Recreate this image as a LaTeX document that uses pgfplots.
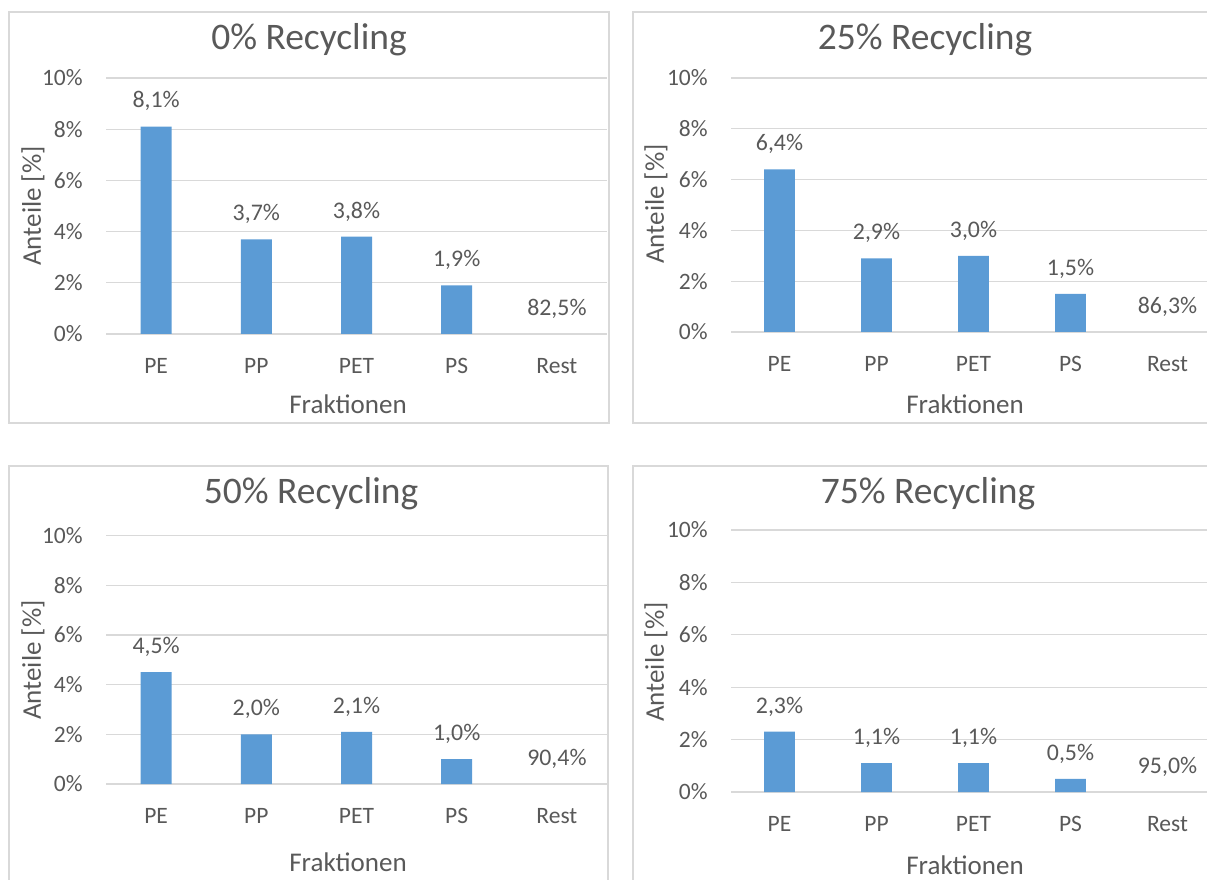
\documentclass[border=0pt]{standalone}
\usepackage{pgfplots}
\pgfplotsset{compat=1.18}
\usepackage{fontspec}
\setmainfont{Carlito}

\definecolor{barblue}{HTML}{5B9BD5}
\definecolor{txtgray}{HTML}{595959}
\definecolor{linegray}{HTML}{D9D9D9}

% pixel grid: 1 px = 0.6 pt, y measured from the top edge
\newcommand\PX[2]{({(#1)*0.6pt},{(879-(#2))*0.6pt})}

\pgfkeys{/pgf/number format/assume math mode=true}

\pgfplotsset{
  panel/.style={
    scale only axis,
    anchor=south west,
    ybar, bar width=#1,
    xmin=-0.5, xmax=4.5, ymin=0, ymax=10,
    xtick={0,...,4}, xticklabels={PE,PP,PET,PS,Rest},
    ytick={0,2,...,10},
    yticklabel={\pgfmathprintnumber[fixed,precision=0]{\tick}\%},
    ymajorgrids, grid style={linegray, line width=0.8pt},
    axis line style={draw=none},
    major tick length=0pt,
    tick label style={font=\fontsize{14.1}{17}\selectfont, text=txtgray},
    xticklabel style={anchor=base, inner sep=0pt, yshift=-23.6pt},
    yticklabel style={anchor=east, inner sep=0pt, xshift=-13.8pt},
    nodes near coords={\pgfmathprintnumber[fixed,fixed zerofill,precision=1,use comma]{\pgfplotspointmeta}\%},
    every node near coord/.append style={anchor=base, inner sep=0pt, yshift=11.2pt,
      font=\fontsize{14.3}{17}\selectfont, text=txtgray},
    clip=false,
  },
  bars/.style={fill=barblue, draw=none},
}
\tikzset{
  restlabel/.style={anchor=base, inner sep=0pt, yshift=11.2pt,
    font=\fontsize{14.3}{17}\selectfont, text=txtgray},
  ptitle/.style={font=\fontsize{22.5}{26}\selectfont, text=txtgray},
  alabel/.style={font=\fontsize{16.2}{19}\selectfont, text=txtgray},
  frame/.style={draw=linegray, line width=0.8pt},
}

\begin{document}
\begin{tikzpicture}
\useasboundingbox (0,0) rectangle (724.2pt,527.4pt);
\clip (0,0) rectangle (724.2pt,527.4pt);

% chart frames
\draw[frame] \PX{9}{12} rectangle \PX{609}{423};
\draw[frame] \PX{633}{12} rectangle \PX{1217}{423};
\draw[frame] \PX{9}{466} rectangle \PX{608}{895};
\draw[frame] \PX{633}{466} rectangle \PX{1217}{895};

% 0% Recycling
\begin{axis}[panel=18.6pt, at={(63.6pt,327pt)}, width=300.6pt, height=153.6pt]
\addplot[bars] coordinates {(0,8.1) (1,3.7) (2,3.8) (3,1.9)};
\node[restlabel] at (axis cs:4,0) {82,5\%};
\end{axis}
\node[ptitle] at \PX{309}{40} {0\% Recycling};
\node[alabel, rotate=90] at \PX{33}{206} {Anteile [\%]};
\node[alabel] at \PX{348}{404} {Fraktionen};

% 25% Recycling
\begin{axis}[panel=18.4pt, at={(438.6pt,328.2pt)}, width=291pt, height=152.4pt]
\addplot[bars] coordinates {(0,6.4) (1,2.9) (2,3.0) (3,1.5)};
\node[restlabel] at (axis cs:4,0) {86,3\%};
\end{axis}
\node[ptitle] at \PX{925}{40} {25\% Recycling};
\node[alabel, rotate=90] at \PX{656}{204} {Anteile [\%]};
\node[alabel] at \PX{965}{404} {Fraktionen};

% 50% Recycling
\begin{axis}[panel=18.6pt, at={(63.6pt,57pt)}, width=300.6pt, height=149.1pt]
\addplot[bars] coordinates {(0,4.5) (1,2.0) (2,2.1) (3,1.0)};
\node[restlabel] at (axis cs:4,0) {90,4\%};
\end{axis}
\node[ptitle] at \PX{311}{494} {50\% Recycling};
\node[alabel, rotate=90] at \PX{33}{660} {Anteile [\%]};
\node[alabel] at \PX{348}{862} {Fraktionen};

% 75% Recycling
\begin{axis}[panel=18.4pt, at={(438.6pt,52.2pt)}, width=291pt, height=157.2pt]
\addplot[bars] coordinates {(0,2.3) (1,1.1) (2,1.1) (3,0.5)};
\node[restlabel] at (axis cs:4,0) {95,0\%};
\end{axis}
\node[ptitle] at \PX{928}{494} {75\% Recycling};
\node[alabel, rotate=90] at \PX{656}{662} {Anteile [\%]};
\node[alabel] at \PX{965}{865} {Fraktionen};
\end{tikzpicture}
\end{document}
